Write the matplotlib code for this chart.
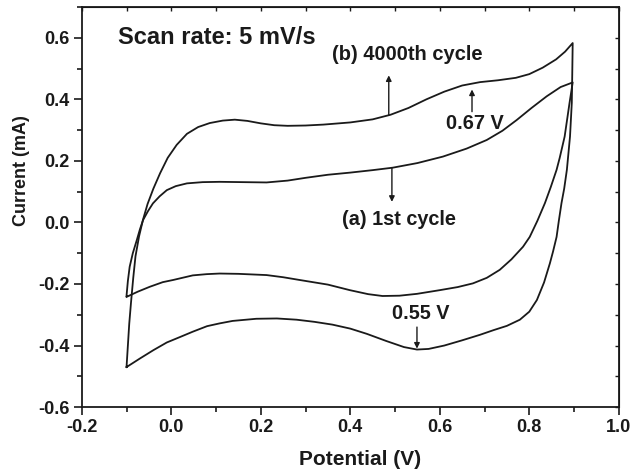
import numpy as np
import matplotlib
matplotlib.use("Agg")
import matplotlib.pyplot as plt

plt.rcParams['font.family'] = ['Liberation Sans', 'DejaVu Sans']
plt.rcParams['font.weight'] = 'bold'
plt.rcParams['axes.unicode_minus'] = False

# (a) 1st cycle: anodic sweep then cathodic sweep
pot_1st = [-0.100, -0.097, -0.093, -0.086, -0.077, -0.070, -0.063, -0.052, -0.041,
           -0.026, -0.010, 0.010, 0.035, 0.070, 0.108, 0.160, 0.213, 0.260, 0.300,
           0.350, 0.400, 0.450, 0.495, 0.550, 0.607, 0.660, 0.705, 0.740, 0.772,
           0.805, 0.839, 0.870, 0.897,
           0.890, 0.879, 0.868, 0.861, 0.848, 0.835, 0.818, 0.801, 0.786, 0.760,
           0.734, 0.705, 0.674, 0.640, 0.600, 0.549, 0.510, 0.472, 0.440,
           0.399, 0.350, 0.287, 0.250, 0.213, 0.150, 0.108, 0.079, 0.048, 0.004,
           -0.019, -0.048, -0.075, -0.100]
cur_1st = [-0.238, -0.190, -0.144, -0.100, -0.057, -0.022, 0.008, 0.037, 0.062,
           0.085, 0.105, 0.118, 0.127, 0.131, 0.132, 0.131, 0.130, 0.136, 0.145,
           0.155, 0.162, 0.170, 0.178, 0.193, 0.214, 0.240, 0.268, 0.298, 0.333,
           0.372, 0.410, 0.440, 0.455,
           0.389, 0.279, 0.210, 0.171, 0.115, 0.063, 0.005, -0.047, -0.079, -0.120,
           -0.154, -0.180, -0.198, -0.210, -0.220, -0.232, -0.238, -0.239, -0.233,
           -0.220, -0.202, -0.187, -0.178, -0.171, -0.167, -0.166, -0.168, -0.172, -0.187,
           -0.194, -0.209, -0.225, -0.242]

# (b) 4000th cycle
pot_4000 = [-0.100, -0.097, -0.094, -0.090, -0.085, -0.080, -0.072, -0.063, -0.053,
            -0.040, -0.025, -0.008, 0.012, 0.035, 0.060, 0.086, 0.115, 0.142, 0.170,
            0.200, 0.230, 0.260, 0.300, 0.340, 0.400, 0.450, 0.490, 0.530, 0.570,
            0.610, 0.650, 0.690, 0.730, 0.770, 0.800, 0.830, 0.860, 0.880, 0.897,
            0.896, 0.895, 0.891, 0.884, 0.878, 0.872, 0.866, 0.861, 0.853, 0.846,
            0.833, 0.817, 0.800, 0.779, 0.750, 0.720, 0.690, 0.650, 0.610, 0.575,
            0.549, 0.520, 0.480, 0.437, 0.400, 0.360, 0.320, 0.280, 0.236, 0.190,
            0.137, 0.108, 0.080, 0.048, 0.020, -0.010, -0.040, -0.070, -0.100]
cur_4000 = [-0.470, -0.400, -0.330, -0.260, -0.180, -0.110, -0.045, 0.010, 0.060,
            0.110, 0.160, 0.210, 0.252, 0.288, 0.310, 0.323, 0.331, 0.334, 0.330,
            0.322, 0.316, 0.314, 0.315, 0.318, 0.325, 0.335, 0.350, 0.372, 0.400,
            0.425, 0.445, 0.456, 0.462, 0.470, 0.482, 0.503, 0.530, 0.555, 0.583,
            0.480, 0.389, 0.279, 0.171, 0.110, 0.063, 0.005, -0.047, -0.095, -0.133,
            -0.195, -0.252, -0.290, -0.316, -0.336, -0.350, -0.365, -0.383, -0.400, -0.411,
            -0.413, -0.405, -0.385, -0.362, -0.345, -0.332, -0.323, -0.316, -0.312, -0.313,
            -0.320, -0.328, -0.337, -0.355, -0.372, -0.390, -0.415, -0.442, -0.470]

ink = '#1a1a1a'

fig = plt.figure(figsize=(6.34, 4.69), dpi=100)
ax = fig.add_axes([0.129, 0.132, 0.847, 0.853])

ax.plot(pot_1st, cur_1st, color=ink, lw=1.3)
ax.plot(pot_4000, cur_4000, color=ink, lw=1.3)

ax.set_xlim(-0.2, 1.0)
ax.set_ylim(-0.6, 0.7)
ax.set_xticks(np.arange(-0.2, 1.01, 0.2))
ax.set_yticks(np.arange(-0.6, 0.61, 0.2))
ax.set_xticks(np.arange(-0.1, 1.0, 0.2), minor=True)
ax.set_yticks(np.arange(-0.5, 0.71, 0.2), minor=True)
ax.tick_params(which='major', direction='out', length=5.5, width=1.2, color=ink,
               labelsize=13, labelcolor=ink, pad=3)
ax.tick_params(which='minor', direction='out', length=3.5, width=1.2, color=ink)
for s in ax.spines.values():
    s.set_linewidth(1.3)
    s.set_color(ink)

# small inward ticks on top and right
top = ax.secondary_xaxis('top')
top.set_xticks(np.arange(-0.2, 1.01, 0.1))
top.set_xticklabels([])
top.tick_params(direction='in', length=3, width=1.0, color=ink)
right = ax.secondary_yaxis('right')
right.set_yticks(np.arange(-0.6, 0.71, 0.1))
right.set_yticklabels([])
right.tick_params(direction='in', length=3, width=1.0, color=ink)

ax.set_xlabel('Potential (V)', fontsize=15, fontweight='bold', color=ink)
ax.set_ylabel('Current (mA)', fontsize=13, fontweight='bold', color=ink)
ax.xaxis.set_label_coords(0.518, -0.107)
ax.yaxis.set_label_coords(-0.097, 0.59)

ax.text(-0.12, 0.6, 'Scan rate: 5 mV/s', fontsize=17, fontweight='bold', color=ink,
        va='center', ha='left')
ax.text(0.527, 0.545, '(b) 4000th cycle', fontsize=14.5, fontweight='bold', color=ink,
        va='center', ha='center')
ax.text(0.678, 0.320, '0.67 V', fontsize=14.3, fontweight='bold', color=ink,
        va='center', ha='center')
ax.text(0.508, 0.011, '(a) 1st cycle', fontsize=14.3, fontweight='bold', color=ink,
        va='center', ha='center')
ax.text(0.558, -0.295, '0.55 V', fontsize=14.3, fontweight='bold', color=ink,
        va='center', ha='center')

arrow = dict(arrowstyle='-|>', lw=1.0, color=ink, mutation_scale=8, shrinkA=0, shrinkB=0)
ax.annotate('', xy=(0.486, 0.478), xytext=(0.486, 0.350), arrowprops=arrow)
ax.annotate('', xy=(0.672, 0.432), xytext=(0.672, 0.360), arrowprops=arrow)
ax.annotate('', xy=(0.493, 0.067), xytext=(0.493, 0.178), arrowprops=arrow)
ax.annotate('', xy=(0.549, -0.410), xytext=(0.549, -0.340), arrowprops=arrow)

fig.savefig('out.png', dpi=100)
